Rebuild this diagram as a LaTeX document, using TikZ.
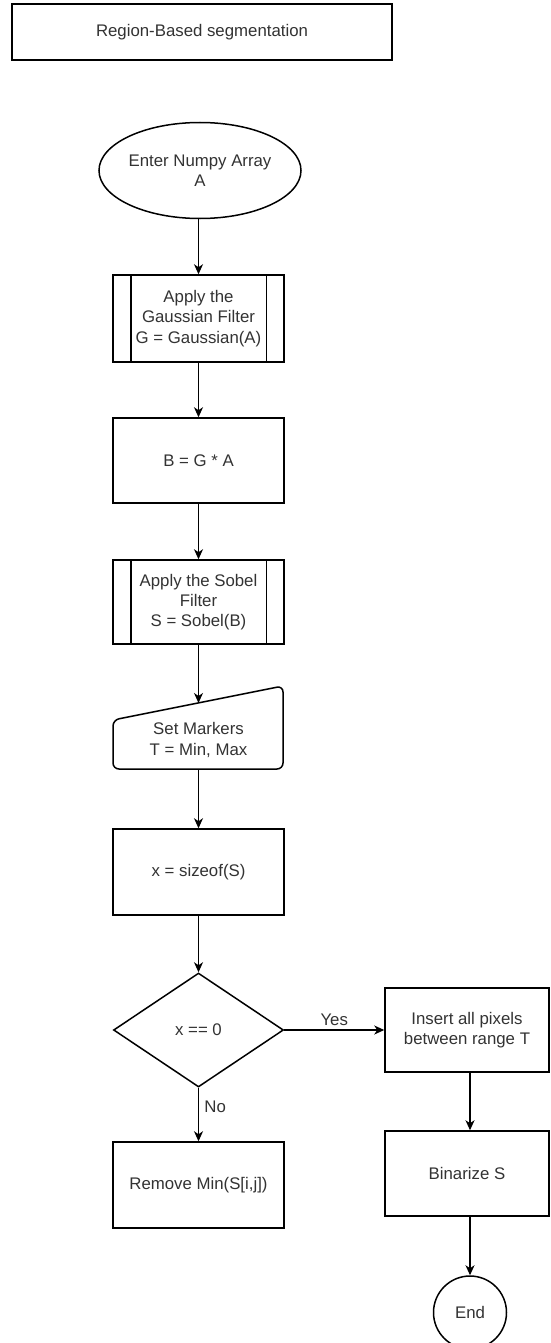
\documentclass[tikz,border=0pt]{standalone}
\usepackage{fontspec}
\setmainfont{Liberation Sans}
\usetikzlibrary{shapes.geometric,arrows.meta,calc}

\definecolor{txt}{HTML}{333333}

\tikzset{
  x=1pt, y=-1pt,
  every node/.style={font=\fontsize{16.8}{20.2}\selectfont, text=txt, align=center},
  shape line/.style={draw=black, line width=1.5pt},
  procbox/.style={shape line, rectangle, minimum width=171pt, minimum height=86pt, inner sep=0pt},
  terminal/.style={shape line, ellipse, minimum width=168pt, minimum height=96pt, inner sep=0pt},
  endcircle/.style={shape line, circle, minimum size=73pt, inner sep=0pt},
  decision/.style={shape line, diamond, minimum width=170pt, minimum height=114pt, inner sep=0pt},
  flow/.style={draw=black, line width=1.3pt, -{Stealth[length=10pt,width=9pt,inset=3pt]}},
  edgelabel/.style={font=\fontsize{16.8}{20.2}\selectfont, text=txt}
}

% inner side bars of a predefined-process box
\newcommand{\sidebars}[1]{%
  \draw[shape line] ($(#1.north west)+(18.5,0)$) -- ($(#1.south west)+(18.5,0)$);
  \draw[shape line] ($(#1.north east)+(-18.5,0)$) -- ($(#1.south east)+(-18.5,0)$);
}

\begin{document}
\begin{tikzpicture}
  \useasboundingbox (0,0) rectangle (550,1343);
  \fill[white] (0,0) rectangle (550,1343);

  % heading
  \node[shape line, rectangle, minimum width=380pt, minimum height=56pt, inner sep=0pt] (title) at (202,32) {Region-Based segmentation};

  % main column
  \node[terminal] (start) at (200,170.5) {Enter Numpy Array\\A};
  \node[procbox, minimum height=87pt] (gauss) at (198.5,318.5) {Apply the\\Gaussian Filter\\G = Gaussian(A)};
  \sidebars{gauss}
  \node[procbox, minimum height=85pt] (mult) at (198.5,460.5) {B = G * A};
  \node[procbox, minimum height=84pt] (sobel) at (198.5,602) {Apply the Sobel\\Filter\\S = Sobel(B)};
  \sidebars{sobel}

  % manual input shape (slanted top edge)
  \coordinate (mtl) at (113,720);
  \coordinate (mtr) at (283,686);
  \coordinate (mbr) at (283,769);
  \coordinate (mbl) at (113,769);
  \draw[shape line, rounded corners=6pt] (mtl) -- (mtr) -- (mbr) -- (mbl) -- cycle;
  \coordinate (markin) at (198.5,703);
  \coordinate (markout) at (198.5,769);
  \node (markers) at (198.5,740) {Set Markers\\T = Min, Max};

  \node[procbox] (size) at (198.5,872) {x = sizeof(S)};
  \node[decision] (test) at (198.5,1030) {x == 0};
  \node[procbox] (remove) at (198.5,1185) {Remove Min(S[i,j])};

  % right column
  \node[endcircle] (finish) at (470,1312.5) {End};
  \node[procbox, minimum width=164pt, minimum height=84pt] (insert) at (467,1030) {Insert all pixels\\between range T};
  \node[procbox, minimum width=164pt, minimum height=85pt] (binar) at (467,1173.5) {Binarize S};

  % connectors
  \draw[flow] (start.south -| gauss.north) -- (gauss.north);
  \draw[flow] (gauss.south) -- (mult.north);
  \draw[flow] (mult.south) -- (sobel.north);
  \draw[flow] (sobel.south) -- (markin);
  \draw[flow] (markout) -- (size.north);
  \draw[flow] (size.south) -- (test.north);
  \draw[flow] (test.east) -- node[edgelabel, above=0pt, pos=0.5] {Yes} (insert.west);
  \draw[flow] (test.south) -- node[edgelabel, right=2pt, pos=0.35] {No} (remove.north);
  \draw[flow] (insert.south -| finish.center) -- (binar.north -| finish.center);
  \draw[flow] (binar.south -| finish.center) -- (finish.north);
\end{tikzpicture}
\end{document}
